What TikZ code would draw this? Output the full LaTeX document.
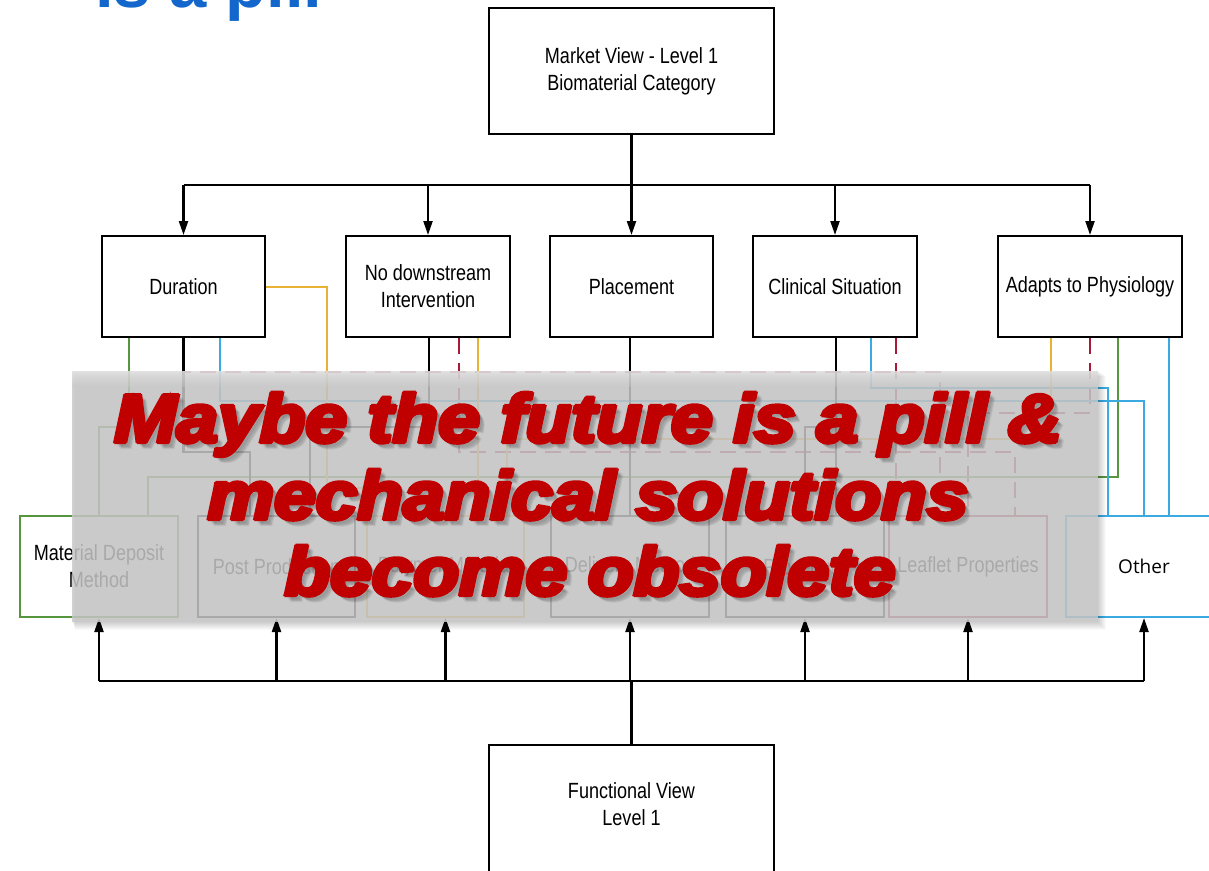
\documentclass[tikz,border=0pt]{standalone}
\usepackage{fontspec}
\setmainfont{Liberation Sans}
\newfontfamily\boxfont{Liberation Sans}[FakeStretch=0.82]
\newfontfamily\otherfont{Open Sans}
\newfontfamily\heavyfont{Liberation Sans}[FakeBold=3,FakeStretch=1.1]
\usetikzlibrary{arrows.meta}

\definecolor{lgreen}{RGB}{86,150,62}
\definecolor{lblue}{RGB}{58,170,225}
\definecolor{lyellow}{RGB}{232,178,50}
\definecolor{lred}{RGB}{168,24,56}
\definecolor{msgred}{RGB}{192,0,0}
\definecolor{titleblue}{RGB}{18,102,204}
\definecolor{veil}{RGB}{202,202,202}

\begin{document}
\begin{tikzpicture}[x=1pt,y=-1pt,
  box/.style={draw=black, line width=2pt, fill=white, inner sep=2pt, align=center,
              font=\boxfont\fontsize{22}{27}\selectfont},
  lvl/.style={box, minimum width=163pt, minimum height=101pt},
  fn/.style={box, minimum width=158pt, minimum height=101pt},
  wire/.style={line width=2.2pt, draw=black},
  arr/.style={wire, -{Triangle[length=14pt,width=9pt]}},
  gwire/.style={line width=2pt, draw=lgreen},
  bwire/.style={line width=2pt, draw=lblue},
  ywire/.style={line width=2pt, draw=lyellow},
  rwire/.style={line width=2pt, draw=lred, dash pattern=on 16pt off 9pt},
  msg/.style={inner sep=0pt, anchor=base, text=msgred,
              font=\heavyfont\bfseries\itshape\fontsize{68}{76}\selectfont},
  msgshadow/.style={msg, text=black, opacity=0.05},
]
\fill[white] (0,0) rectangle (1209,870);
\useasboundingbox (0,0) rectangle (1209,870);
\clip (0,0) rectangle (1209,870);

% heading, mostly above the page
\node[anchor=base west, inner sep=0pt, text=titleblue,
      font=\bfseries\fontsize{67}{70}\selectfont] (ttl) at (95,7) {is a pill};

% market view tree
\node[box, minimum width=285pt, minimum height=126pt] (mv) at (631.5,71)
  {Market View - Level 1\\Biomaterial Category};
\node[lvl] (dur) at (183.5,286.5) {Duration};
\node[lvl, minimum width=164pt] (ndi) at (428,286.5) {No downstream\\Intervention};
\node[lvl] (pla) at (631.5,286.5) {Placement};
\node[lvl, minimum width=164pt] (cli) at (835,286.5) {Clinical Situation};
\node[lvl, minimum width=184pt] (ada) at (1090,286.5) {Adapts to Physiology};

% functional view tree
\node[fn, draw=lgreen] (mdm) at (99,566.5) {Material Deposit\\Method};
\node[fn, minimum width=157pt] (pp) at (276.5,566.5) {Post Production};
\node[fn, minimum width=157pt, draw=lyellow] (pm) at (445.5,566.5) {Polymer Material};
\node[fn] (dm) at (630,566.5) {Delivery Method};
\node[fn] (pr) at (805,566.5) {Procedure};
\node[fn, draw=lred] (lp) at (968,566.5) {Leaflet Properties};
\node[fn, minimum width=156pt, draw=lblue, font=\otherfont\fontsize{19}{23}\selectfont]
  (oth) at (1144,566.5) {Other};
\node[box, minimum width=285pt, minimum height=140pt, anchor=north] (fv) at (631.5,744) {};
\node[inner sep=0pt, align=center, font=\boxfont\fontsize{22}{27}\selectfont]
  (fvt) at (631.5,804.5) {Functional View\\Level 1};

% cross links between the two levels
\draw[rwire] (dur.south) |- (940,372) -- (lp.north -| 940,0);
\draw[rwire] (ndi.south -| 459,0) |- (1015,452) -- (lp.north -| 1015,0);
\draw[rwire] (cli.south -| 896,0) -- (lp.north -| 896,0);
\draw[rwire] (ada.south) |- (968,413) -- (lp.north);

\draw[gwire] (dur.south -| 129,0) |- (99,427) -- (mdm.north -| 99,0);
\draw[gwire] (ada.south -| 1118,0) |- (148,477) -- (mdm.north -| 148,0);

\draw[bwire] (dur.south -| 220,0) |- (1144,401) -- (oth.north -| 1144,0);
\draw[bwire] (cli.south -| 871,0) |- (1108,388) -- (oth.north -| 1108,0);
\draw[bwire] (ada.south -| 1169,0) -- (oth.north -| 1169,0);

\draw[ywire] (dur.east) -| (327,488) -| (pm.north -| 390,0);
\draw[ywire] (ndi.south -| 478,0) -- (pm.north -| 478,0);
\draw[ywire] (ada.south -| 1051,0) |- (507,439) -- (pm.north -| 507,0);

\draw[wire] (dur.south) |- (250,452) -- (pp.north -| 250,0);
\draw[wire] (ndi.south -| 429,0) |- (310,427) -- (pp.north -| 310,0);
\draw[wire] (pla.south -| 630,0) -- (dm.north);
\draw[wire] (cli.south -| 836,0) -- (pr.north -| 836,0);
\draw[wire] (cli.south -| 836,0) |- (805,427) -- (pr.north);

% top distribution bus
\coordinate (tb) at (631.5,185);
\draw[wire] (mv.south) -- (tb);
\draw[wire] (dur.north |- tb) -- (ada.north |- tb);
\foreach \n in {dur,ndi,pla,cli,ada}
  \draw[arr] (\n.north |- tb) -- (\n.north);

% bottom collection bus
\coordinate (bb) at (631.5,681);
\draw[wire] (fv.north) -- (bb);
\draw[wire] (mdm.south |- bb) -- (oth.south |- bb);
\foreach \n in {mdm,pp,pm,dm,pr,lp,oth}
  \draw[arr] (\n.south |- bb) -- (\n.south);

% translucent panel with its soft shadow
\foreach \i in {1,...,8}
  \fill[black, opacity=0.025] (72+\i*0.4,371+\i*0.6) rectangle (1098+\i,622+\i);
\fill[veil, opacity=0.84] (72,371) rectangle (1098,622);
\shade[top color=white, bottom color=veil, opacity=0.35] (72,371) rectangle (1098,386);

% message with a soft drop shadow
\foreach \d in {3,4,5,6} {
  \node[msgshadow] (s1) at (588+\d,442+\d) {Maybe the future is a pill \&};
  \node[msgshadow] (s2) at (588+\d,519+\d) {mechanical solutions};
  \node[msgshadow] (s3) at (590+\d,595+\d) {become obsolete};
}
% heavy lettering: the bold face laid down a few times, slightly spread
\foreach \dx/\dy in {-1.3/0, 1.3/0, 0/-1.1, 0/1.1, 0/0} {
  \node[msg] (m1) at (588+\dx,442+\dy) {Maybe the future is a pill \&};
  \node[msg] (m2) at (588+\dx,519+\dy) {mechanical solutions};
  \node[msg] (m3) at (590+\dx,595+\dy) {become obsolete};
}
\end{tikzpicture}
\end{document}
